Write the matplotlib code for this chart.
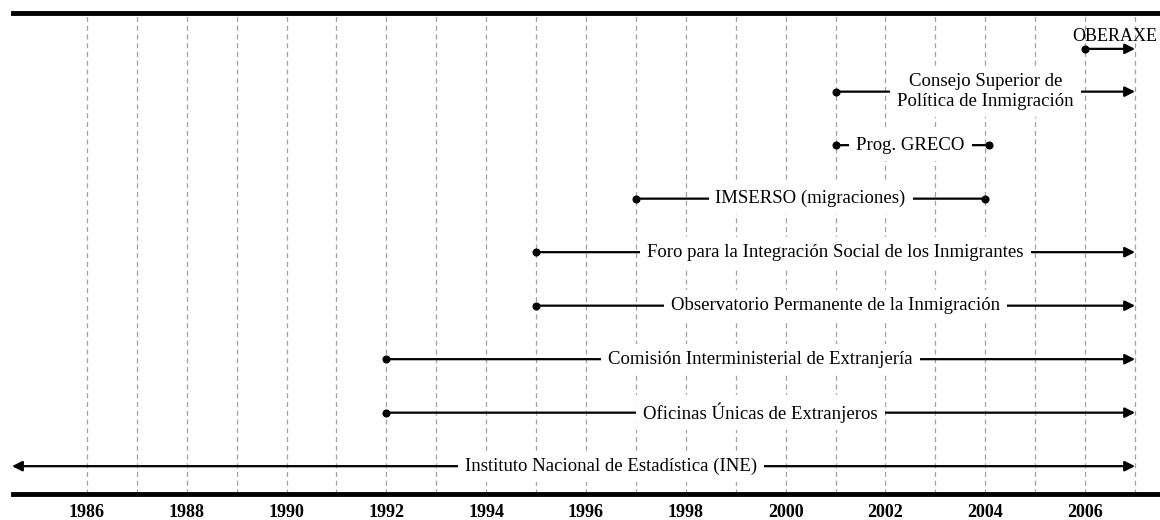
import matplotlib
matplotlib.use("Agg")
import matplotlib.pyplot as plt

plt.rcParams['font.family'] = ['Liberation Serif', 'DejaVu Serif']

labels = ["Instituto Nacional de Estadística (INE)",
          "Oficinas Únicas de Extranjeros",
          "Comisión Interministerial de Extranjería",
          "Observatorio Permanente de la Inmigración",
          "Foro para la Integración Social de los Inmigrantes",
          "IMSERSO (migraciones)",
          "Prog. GRECO",
          "Consejo Superior de\nPolítica de Inmigración",
          "OBERAXE"]
rows = [0, 1, 2, 3, 4, 5, 6, 7, 7.8]
starts = [1984.5, 1992, 1992, 1995, 1995, 1997, 2001, 2001, 2006]
ends = [2007, 2007, 2007, 2007, 2007, 2004, 2004.07, 2007, 2007]
start_arrow = [True, False, False, False, False, False, False, False, False]
end_arrow = [True, True, True, True, True, False, False, True, True]
label_x = [1996.5, 1999.5, 1999.5, 2001, 2001, 2000.5, 2002.5, 2004, 2006.6]
label_above = [False, False, False, False, False, False, False, False, True]

grid_years = list(range(1986, 2008))
tick_years = list(range(1986, 2008, 2))

fig = plt.figure(figsize=(11.6, 5.2), dpi=100)
ax = fig.add_axes([0.0112, 0.05, 0.9888, 0.925])
ax.set_xlim(1984.52, 2007.5)
ax.set_ylim(-0.52, 8.47)

for yr in grid_years:
    ax.axvline(yr, color='#a0a0a0', lw=0.9, ls=(0, (4, 3)), zorder=0)

for lab, y, s, e, sa, ea, lx, above in zip(labels, rows, starts, ends,
                                           start_arrow, end_arrow, label_x, label_above):
    style = '-|>' if ea else '-'
    if sa:
        style = '<|-|>'
    ax.annotate('', xy=(e, y), xytext=(s, y),
                arrowprops=dict(arrowstyle=style, color='black', lw=1.6,
                                mutation_scale=15, shrinkA=0, shrinkB=0),
                zorder=2)
    if not sa:
        ax.plot([s], [y], 'o', color='black', ms=4.8, zorder=3)
    if not ea:
        ax.plot([e], [y], 'o', color='black', ms=4.8, zorder=3)
    if above:
        ax.text(lx, y + 0.24, lab, ha='center', va='center', fontsize=13,
                zorder=4)
    else:
        ax.text(lx, y, lab, ha='center', va='center', fontsize=13.5,
                linespacing=1.2, zorder=4,
                bbox=dict(facecolor='white', edgecolor='none', pad=5))

ax.set_xticks(tick_years)
ax.set_xticklabels([str(t) for t in tick_years], fontweight='bold', fontsize=13)
ax.tick_params(axis='x', length=0, pad=7)
ax.set_yticks([])
for sp in ['left', 'right']:
    ax.spines[sp].set_visible(False)
for sp in ['top', 'bottom']:
    ax.spines[sp].set_linewidth(3.5)
    ax.spines[sp].set_color('black')

fig.savefig('out.png', dpi=100)
